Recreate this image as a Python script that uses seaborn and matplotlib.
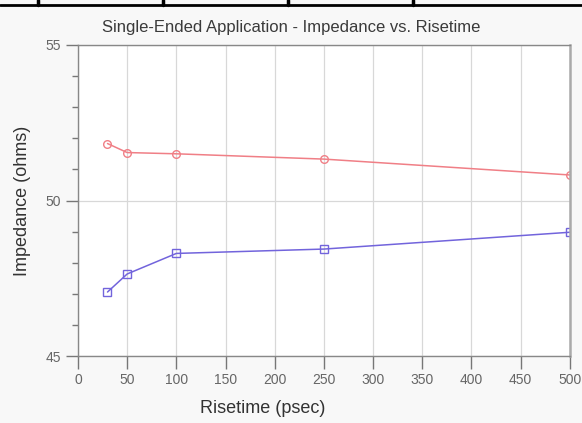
import matplotlib
matplotlib.use("Agg")
import matplotlib.pyplot as plt
import seaborn as sns
import pandas as pd
from matplotlib.ticker import MultipleLocator

# values
risetime = [30, 50, 100, 250, 500]
z_upper = [51.83, 51.54, 51.50, 51.33, 50.82]
z_lower = [47.06, 47.64, 48.30, 48.44, 48.98]

df = pd.DataFrame({
    "Risetime": risetime * 2,
    "Impedance": z_upper + z_lower,
    "Series": ["upper"] * len(risetime) + ["lower"] * len(risetime),
})
colors = {"upper": "#f07f86", "lower": "#7264dc"}
marks = {"upper": "o", "lower": "s"}

sns.set_style("white")
plt.rcParams["font.family"] = ["Liberation Sans", "DejaVu Sans"]

fig = plt.figure(figsize=(5.82, 4.23), dpi=100)
fig.patch.set_facecolor("#f8f8f8")
ax = fig.add_axes([0.134, 0.158, 0.845, 0.736])
ax.set_facecolor("white")

for name, sub in df.groupby("Series"):
    sns.lineplot(data=sub, x="Risetime", y="Impedance", color=colors[name],
                 marker=marks[name], markerfacecolor="none",
                 markeredgecolor=colors[name], markersize=5.5,
                 markeredgewidth=1.0, linewidth=1.1, ax=ax)

ax.set_xlim(0, 500)
ax.set_ylim(45, 55)
ax.xaxis.set_major_locator(MultipleLocator(50))
ax.yaxis.set_major_locator(MultipleLocator(5))
ax.yaxis.set_minor_locator(MultipleLocator(1))
ax.grid(True, which="major", color="#d8d8d8", linewidth=0.9)
ax.tick_params(axis="both", which="major", direction="out", length=9, width=1,
               color="#777777", labelsize=10, labelcolor="#666666", pad=3,
               bottom=True, left=True)
ax.tick_params(axis="y", which="minor", direction="out", length=4, width=1,
               color="#777777", left=True)
for s in ax.spines.values():
    s.set_color("#888888")
    s.set_linewidth(1.0)
ax.spines["right"].set_linewidth(1.8)
ax.spines["right"].set_color("#aaaaaa")

ax.set_xlabel("Risetime (psec)", fontsize=13, color="#333333", labelpad=12)
ax.xaxis.set_label_coords(0.376, -0.14)
ax.set_ylabel("Impedance (ohms)", fontsize=13, color="#333333")
ax.yaxis.set_label_coords(-0.095, 0.5)
ax.set_title("Single-Ended Application - Impedance vs. Risetime",
             fontsize=12, color="#3a3a3a", x=0.433, pad=9)

# table cell borders at the top of the scan
fig.add_artist(plt.Line2D([0, 1], [1 - 5.5 / 423] * 2, color="black", linewidth=2,
                          transform=fig.transFigure))
for xp in [38, 163, 288, 413]:
    fig.add_artist(plt.Line2D([xp / 582] * 2, [1, 1 - 5.5 / 423], color="black",
                              linewidth=2.5, transform=fig.transFigure))

fig.savefig("out.png", dpi=100, facecolor=fig.get_facecolor())
